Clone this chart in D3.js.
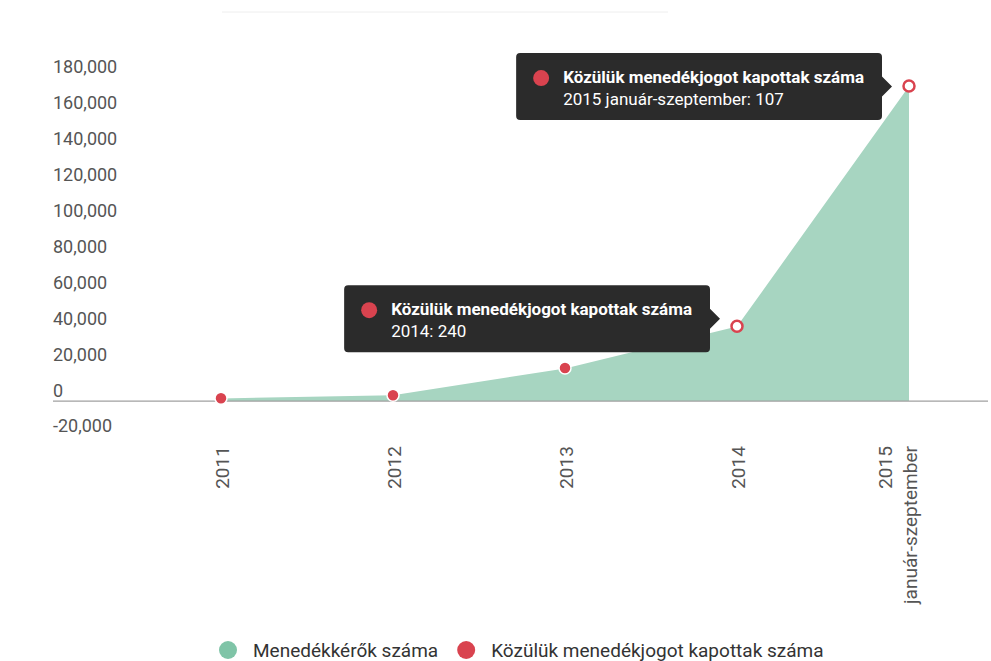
<!DOCTYPE html>
<html>
<head>
<meta charset="utf-8">
<script src="https://cdn.jsdelivr.net/npm/d3@7"></script>
<style>
  body { margin: 0; background: #fff; font-family: Roboto, "Noto Sans", sans-serif; }
</style>
</head>
<body>
<div id="chart"></div>
<script>
// data
var years = ['2011', '2012', '2013', '2014', '2015'];
var yearLabels = [['2011'], ['2012'], ['2013'], ['2014'], ['2015', 'január-szeptember']];
var tooltipYears = ['2011', '2012', '2013', '2014', '2015 január-szeptember'];
var seekers = [1500, 3200, 18200, 41500, 175400];
var granted = [52, 87, 198, 240, 107];
var yTicks = [-20000, 0, 20000, 40000, 60000, 80000, 100000, 120000, 140000, 160000, 180000];
var seriesNames = ['Menedékkérők száma', 'Közülük menedékjogot kapottak száma'];
var seriesColors = ['#a7d5c1', '#d9434f'];
var legendColors = ['#7fc4a7', '#d9434f'];
var hovered = [3, 4];

var W = 991, H = 661;
var svg = d3.select('#chart').append('svg').attr('width', W).attr('height', H);

var x = d3.scalePoint().domain(years).range([221, 909]);
var y = d3.scaleLinear().domain([-20000, 180000]).range([437, 78]);

var rows = years.map(function(yr, i) { return { year: yr, a: seekers[i], b: granted[i] }; });
var stacked = d3.stack().keys(['a', 'b'])(rows);

// faint top border
svg.append('line').attr('x1', 222).attr('x2', 668).attr('y1', 12).attr('y2', 12)
    .attr('stroke', '#eeeeee');

// area
var area = d3.area()
    .x(function(d) { return x(d.data.year); })
    .y0(function(d) { return y(d[0]); })
    .y1(function(d) { return y(d[1]); });
svg.append('path').datum(stacked[0]).attr('d', area).attr('fill', seriesColors[0]);

// zero line
svg.append('line').attr('x1', 53).attr('x2', 988).attr('y1', y(0)).attr('y2', y(0))
    .attr('stroke', '#a0a0a0').attr('stroke-width', 1.3);

// y axis labels
var yAxis = d3.axisRight(y).tickValues(yTicks).tickSize(0).tickPadding(0)
    .tickFormat(d3.format(','));
var yg = svg.append('g').attr('transform', 'translate(53,0)').call(yAxis);
yg.select('.domain').remove();
yg.selectAll('text').attr('fill', '#555').attr('font-size', 18)
    .attr('font-family', 'Roboto, sans-serif').attr('dy', '-0.28em')
    .text(function(d) { return d3.format(',')(d).replace('−', '-'); });

// x axis labels, rotated
var xAxis = d3.axisBottom(x).tickSize(0).tickFormat('');
var xg = svg.append('g').attr('transform', 'translate(0,' + y(0) + ')').call(xAxis);
xg.select('.domain').remove();
xg.selectAll('.tick').each(function(d, i) {
    var lines = yearLabels[i];
    var t = d3.select(this).append('text')
        .attr('transform', 'rotate(-90)')
        .attr('text-anchor', 'end')
        .attr('fill', '#555').attr('font-size', 19)
        .attr('font-family', 'Roboto, sans-serif');
    lines.forEach(function(l, j) {
        t.append('tspan').attr('x', -45)
            .attr('y', (j - (lines.length - 1)) * 25 + 7)
            .text(l);
    });
});

// red markers (stacked on top of the area)
svg.selectAll('circle.pt')
    .data(stacked[1])
    .enter().append('circle')
    .attr('class', 'pt')
    .attr('cx', function(d) { return x(d.data.year); })
    .attr('cy', function(d) { return y(d[1]); })
    .attr('r', function(d, i) { return hovered.indexOf(i) >= 0 ? 5.5 : 6; })
    .attr('fill', function(d, i) { return hovered.indexOf(i) >= 0 ? '#fff' : seriesColors[1]; })
    .attr('stroke', function(d, i) { return hovered.indexOf(i) >= 0 ? seriesColors[1] : '#fff'; })
    .attr('stroke-width', function(d, i) { return hovered.indexOf(i) >= 0 ? 2.5 : 1.5; });

// tooltips
hovered.forEach(function(i, k) {
    var px = x(years[i]), py = y(stacked[1][i][1]);
    var boxH = 67;
    var top = k === 0 ? py - 41 : py - 33;
    var g = svg.append('g');
    var box = g.append('path').attr('fill', '#2b2b2b');
    var t1 = g.append('text').attr('font-size', 17).attr('font-weight', 'bold')
        .attr('fill', '#fff').attr('font-family', 'Roboto, sans-serif')
        .text(seriesNames[1]);
    var t2 = g.append('text').attr('font-size', 17)
        .attr('fill', '#fff').attr('font-family', 'Roboto, sans-serif')
        .text(tooltipYears[i] + ': ' + granted[i]);
    var tw = Math.max(t1.node().getComputedTextLength(), t2.node().getComputedTextLength());
    var boxW = tw + 65;
    var right = px - 27, left = right - boxW, bottom = top + boxH;
    var ay = top + boxH / 2, r = 4;
    box.attr('d', 'M' + (left + r) + ',' + top +
        'H' + (right - r) + 'Q' + right + ',' + top + ' ' + right + ',' + (top + r) +
        'V' + (ay - 10) + 'L' + (right + 10) + ',' + ay + 'L' + right + ',' + (ay + 10) +
        'V' + (bottom - r) + 'Q' + right + ',' + bottom + ' ' + (right - r) + ',' + bottom +
        'H' + (left + r) + 'Q' + left + ',' + bottom + ' ' + left + ',' + (bottom - r) +
        'V' + (top + r) + 'Q' + left + ',' + top + ' ' + (left + r) + ',' + top + 'Z');
    g.append('circle').attr('cx', left + 25).attr('cy', top + 25).attr('r', 8)
        .attr('fill', seriesColors[1]);
    t1.attr('x', left + 47).attr('y', top + 30);
    t2.attr('x', left + 47).attr('y', top + 52);
});

// legend
var legend = svg.append('g').attr('transform', 'translate(0,650)');
var lx = 228;
seriesNames.forEach(function(name, i) {
    legend.append('circle').attr('cx', lx).attr('cy', 0).attr('r', 9).attr('fill', legendColors[i]);
    var t = legend.append('text').attr('x', lx + 25).attr('y', 7)
        .attr('font-size', 19).attr('fill', '#333')
        .attr('font-family', 'Roboto, sans-serif').text(name);
    lx += 25 + t.node().getComputedTextLength() + 28;
});
</script>
</body>
</html>
